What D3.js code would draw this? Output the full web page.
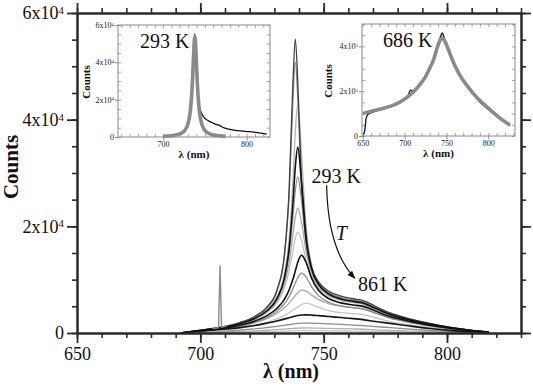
<!DOCTYPE html>
<html>
<head>
<meta charset="utf-8">
<script src="https://cdn.jsdelivr.net/npm/d3@7"></script>
<style>
  body { margin: 0; background: #fff; }
  svg { display: block; }
</style>
</head>
<body>
<svg id="chart" width="533" height="387"></svg>
<script>
// ---- main spectra: wavelength grid (nm) and counts ----
const wavelengths = [692, 700, 708, 716, 722, 727, 731, 734, 736, 737.5, 738.5, 739.5, 741, 743, 745, 748, 752, 757, 762, 766, 771, 777, 785, 793, 801, 809, 817];

const curve01 = [0, 530, 1080, 1960, 3100, 4860, 7980, 14390, 26880, 46420, 55100, 47100, 28450, 16860, 12340, 9520, 7860, 6900, 6420, 6080, 5020, 3760, 2660, 1800, 1110, 570, 190];
const curve02 = [0, 520, 1040, 1900, 3010, 4740, 7790, 14040, 25880, 43400, 50840, 44050, 27390, 16410, 12010, 9230, 7590, 6650, 6180, 5850, 4830, 3610, 2560, 1740, 1070, 550, 180];
const curve03 = [0, 500, 1000, 1810, 2830, 4340, 6760, 10940, 17650, 28070, 37630, 42940, 33630, 19330, 13110, 9490, 7560, 6540, 6050, 5710, 4710, 3520, 2490, 1690, 1040, 540, 180];
const curve04 = [0, 480, 970, 1750, 2730, 4170, 6410, 10160, 15870, 24130, 31130, 34850, 28470, 17530, 12300, 9100, 7340, 6390, 5930, 5610, 4620, 3460, 2450, 1660, 1020, 530, 170];
const curve05 = [0, 470, 960, 1730, 2700, 4110, 6290, 9830, 14910, 21570, 26680, 29260, 25000, 16550, 11940, 8940, 7230, 6300, 5840, 5530, 4560, 3410, 2410, 1640, 1010, 520, 170];
const curve06 = [0, 460, 940, 1690, 2630, 3980, 5990, 9110, 13260, 18220, 21730, 23460, 20850, 14890, 11210, 8640, 7100, 6240, 5800, 5500, 4540, 3400, 2400, 1630, 1000, 515, 165];
const curve07 = [0, 440, 900, 1630, 2530, 3790, 5630, 8330, 11670, 15340, 17780, 18960, 17410, 13280, 10410, 8250, 6880, 6080, 5680, 5390, 4450, 3330, 2360, 1600, 980, 500, 160];
const curve08 = [0, 390, 810, 1460, 2220, 3250, 4600, 6270, 8070, 10020, 11640, 13250, 14610, 13080, 10380, 7950, 6460, 5650, 5260, 4990, 4120, 3080, 2180, 1480, 910, 460, 150];
const curve09 = [0, 350, 720, 1300, 1990, 2900, 4060, 5450, 6850, 8260, 9360, 10370, 11230, 10440, 8730, 6960, 5760, 5070, 4730, 4490, 3710, 2780, 1960, 1330, 820, 420, 130];
const curve10 = [0, 330, 690, 1250, 1900, 2710, 3670, 4700, 5610, 6430, 7020, 7540, 8030, 7870, 7150, 6260, 5520, 5030, 4770, 4560, 3780, 2830, 2000, 1360, 830, 420, 130];
const curve11 = [0, 240, 510, 930, 1400, 1980, 2630, 3270, 3800, 4250, 4590, 4900, 5330, 5600, 5370, 4790, 4200, 3810, 3610, 3450, 2860, 2140, 1520, 1030, 630, 320, 95];
const curve12 = [0, 400, 650, 1000, 1400, 1850, 2250, 2600, 2850, 3050, 3180, 3280, 3370, 3400, 3360, 3250, 3080, 2900, 2700, 2500, 2150, 1800, 1300, 850, 500, 250, 80];
const curve13 = [0, 220, 360, 550, 770, 1020, 1240, 1430, 1570, 1680, 1750, 1800, 1840, 1860, 1850, 1790, 1700, 1600, 1490, 1380, 1190, 990, 720, 470, 280, 140, 45];
const curve14 = [0, 110, 180, 280, 390, 520, 630, 730, 800, 850, 890, 920, 940, 950, 940, 910, 860, 810, 760, 700, 600, 500, 360, 240, 140, 70, 20];
const curve15 = [0, 50, 90, 130, 190, 250, 300, 350, 380, 400, 420, 440, 450, 450, 450, 430, 410, 390, 360, 330, 290, 240, 170, 110, 70, 35, 10];

// narrow line near 708 nm on one of the grey spectra
const spikeWl = [705, 707.4, 708, 708.6, 711];
const spikeCounts = [850, 1000, 12700, 1100, 1360];

// ---- inset 293 K ----
const fitWl293 = [700, 710, 720, 726, 730, 733, 735, 736.5, 737.5, 738, 738.5, 739.5, 741, 743, 746, 750, 756, 765, 775];
const fit293 = [380, 690, 1650, 3560, 7410, 15610, 28580, 44030, 52420, 53700, 52420, 44030, 28580, 15610, 7410, 3560, 1650, 760, 360];
const dataWl293 = [700, 710, 720, 726, 730, 733, 735, 736.5, 737.5, 738, 738.5, 739.5, 741, 743, 745, 749.5, 755, 760, 764, 767, 770, 774, 785, 795, 803, 815, 824];
const data293 = [400, 900, 2000, 3800, 6800, 13000, 24000, 40000, 51000, 55200, 50000, 38000, 25000, 17500, 14000, 10200, 8500, 7400, 6600, 6400, 5500, 4800, 3700, 3200, 2900, 2200, 1600];

// ---- inset 686 K ----
const fitWl686 = [650, 662, 675, 688, 698, 710, 718, 725, 730, 735, 739, 742, 745, 748, 751, 755, 760, 766, 774, 782, 790, 798, 806, 814, 826];
const fit686 = [1010, 1120, 1240, 1400, 1600, 1950, 2280, 2650, 3020, 3450, 3950, 4250, 4370, 4250, 3980, 3600, 3150, 2720, 2280, 1900, 1580, 1310, 1050, 800, 490];
const dataWl686 = [651, 652.5, 654, 656, 660, 666, 675, 688, 698, 704, 707, 710, 714, 720, 728, 735, 740, 743, 745, 747, 750, 755, 760, 766, 774, 782, 790, 798, 806, 814, 826];
const data686 = [60, 300, 800, 960, 1040, 1120, 1220, 1380, 1570, 1800, 2050, 2000, 2100, 2350, 2850, 3450, 4100, 4450, 4600, 4420, 4050, 3600, 3130, 2700, 2250, 1870, 1520, 1250, 1000, 760, 460];

// tick values
const xMajor = [650, 700, 750, 800];
const yMajor = [0, 20000, 40000, 60000];

const spectra = [curve15, curve14, curve13, curve11, curve10, curve09, curve07, curve06, curve05, curve03, curve02, curve01, curve12, curve08, curve04];
const shades = ["#c8c8c8", "#b0b0b0", "#8c8c8c", "#c4c4c4", "#a8a8a8", "#8a8a8a", "#c2c2c2", "#a8a8a8", "#909090", "#b4b4b4", "#8c8c8c", "#404040", "#151515", "#111", "#111"];

const serif = '"Liberation Serif", "DejaVu Serif", "Times New Roman", serif';
const svg = d3.select("#chart");
const ink = "#2a2a2a";

const x = d3.scaleLinear().domain([650, 830]).range([77, 521]);
const y = d3.scaleLinear().domain([0, 60000]).range([333, 13]);

const line = d3.line()
  .x(d => x(d[0]))
  .y(d => y(d[1]))
  .curve(d3.curveMonotoneX);

// spectra
spectra.forEach((c, i) => {
  svg.append("path")
    .datum(wavelengths.map((w, j) => [w, c[j]]))
    .attr("fill", "none")
    .attr("stroke", shades[i])
    .attr("stroke-width", shades[i] === "#111" || shades[i] === "#151515" ? 1.6 : 1.3)
    .attr("d", line);
});

svg.append("path")
  .datum(spikeWl.map((w, j) => [w, spikeCounts[j]]))
  .attr("fill", "none")
  .attr("stroke", "#8c8c8c")
  .attr("stroke-width", 1.4)
  .attr("d", d3.line().x(d => x(d[0])).y(d => y(d[1])));

// superscript labels like 2x10^4
function sciLabels(sel, exp) {
  sel.each(function (d) {
    const t = d3.select(this);
    t.text(null);
    if (d === 0) { t.text("0"); return; }
    t.append("tspan").text(d / Math.pow(10, exp) + "x10");
    t.append("tspan").attr("dy", "-0.5em").attr("font-size", "0.6em").text(exp);
  });
}

function styleAxis(g, w) {
  g.select(".domain").attr("stroke", ink).attr("stroke-width", 2);
  g.selectAll(".tick line").attr("stroke", ink).attr("stroke-width", w);
}

// main axes: minor then major
const minorX = d3.range(650, 831, 10);
const minorY = d3.range(0, 60001, 5000);

const axes = [
  [d3.axisBottom(x), 333, "x"], [d3.axisTop(x), 13, "x"],
  [d3.axisLeft(y), 77, "y"], [d3.axisRight(y), 521, "y"]
];
axes.forEach(([ax, pos, dim]) => {
  const tr = dim === "x" ? `translate(0,${pos})` : `translate(${pos},0)`;
  const gm = svg.append("g").attr("transform", tr)
    .call(ax.tickValues(dim === "x" ? minorX : minorY).tickSize(5).tickSizeOuter(0).tickFormat(""));
  styleAxis(gm, 1.6);
});

const gx = svg.append("g").attr("transform", "translate(0,333)")
  .call(d3.axisBottom(x).tickValues(xMajor).tickSize(10).tickSizeOuter(0).tickPadding(4));
styleAxis(gx, 1.8);
gx.selectAll("text").attr("font-size", 18).attr("fill", "#111");

svg.append("g").attr("transform", "translate(0,13)")
  .call(d3.axisTop(x).tickValues(xMajor).tickSize(10).tickSizeOuter(0).tickFormat(""))
  .call(g => styleAxis(g, 1.8));

const gy = svg.append("g").attr("transform", "translate(77,0)")
  .call(d3.axisLeft(y).tickValues(yMajor).tickSize(10).tickSizeOuter(0).tickPadding(3));
styleAxis(gy, 1.8);
gy.selectAll("text").attr("font-size", 18).attr("fill", "#111")
  .call(sciLabels, 4);

svg.append("g").attr("transform", "translate(521,0)")
  .call(d3.axisRight(y).tickValues(yMajor).tickSize(10).tickSizeOuter(0).tickFormat(""))
  .call(g => styleAxis(g, 1.8));

// axis titles
svg.append("text")
  .attr("x", 291).attr("y", 378)
  .attr("text-anchor", "middle")
  .attr("font-size", 20).attr("font-weight", "bold").attr("fill", "#111")
  .text("λ (nm)");

svg.append("text")
  .attr("transform", "translate(18,167) rotate(-90)")
  .attr("text-anchor", "middle")
  .attr("font-size", 21).attr("font-weight", "bold").attr("fill", "#111")
  .text("Counts");

// temperature annotation
svg.append("defs").append("marker")
  .attr("id", "arrow").attr("viewBox", "0 0 10 10")
  .attr("refX", 9).attr("refY", 5)
  .attr("markerUnits", "userSpaceOnUse")
  .attr("markerWidth", 10).attr("markerHeight", 8)
  .attr("orient", "auto")
  .append("path").attr("d", "M0,1 L10,5 L0,9 z").attr("fill", "#111");

const arrowFrom = [751.2, 27700], arrowCtrl = [751.7, 15600], arrowTo = [762.6, 10300];
svg.append("path")
  .attr("d", `M${x(arrowFrom[0])},${y(arrowFrom[1])} Q${x(arrowCtrl[0])},${y(arrowCtrl[1])} ${x(arrowTo[0])},${y(arrowTo[1])}`)
  .attr("fill", "none").attr("stroke", "#111").attr("stroke-width", 1.2)
  .attr("marker-end", "url(#arrow)");

svg.append("text").attr("x", x(755.1)).attr("y", y(28100))
  .attr("text-anchor", "middle").attr("font-size", 20).attr("fill", "#111").text("293 K");
svg.append("text").attr("x", x(773.9)).attr("y", y(7900))
  .attr("text-anchor", "middle").attr("font-size", 20).attr("fill", "#111").text("861 K");
svg.append("text").attr("x", x(757.2)).attr("y", y(17400))
  .attr("text-anchor", "middle").attr("font-size", 20).attr("font-style", "italic").attr("fill", "#111").text("T");

// ---- insets ----
function drawInset(o) {
  const g = svg.append("g");
  const ix = d3.scaleLinear().domain(o.xDomain).range(o.xRange);
  const iy = d3.scaleLinear().domain(o.yDomain).range(o.yRange);
  const frame = "#8a8a8a";

  g.append("rect")
    .attr("x", o.xRange[0]).attr("y", o.yRange[1])
    .attr("width", o.xRange[1] - o.xRange[0]).attr("height", o.yRange[0] - o.yRange[1])
    .attr("fill", "#fff").attr("stroke", frame).attr("stroke-width", 1);

  const mx = d3.range(650, o.xDomain[1] + 0.1, 10);
  const my = d3.range(0, o.yDomain[1] + 1, o.yMinor);
  const inner = [
    [d3.axisBottom(ix).tickValues(mx), `translate(0,${o.yRange[0]})`],
    [d3.axisTop(ix).tickValues(mx), `translate(0,${o.yRange[1]})`],
    [d3.axisLeft(iy).tickValues(my), `translate(${o.xRange[0]},0)`],
    [d3.axisRight(iy).tickValues(my), `translate(${o.xRange[1]},0)`]
  ];
  inner.forEach(([ax, tr]) => {
    g.append("g").attr("transform", tr)
      .call(ax.tickSize(-3).tickSizeOuter(0).tickFormat(""))
      .call(s => { s.select(".domain").remove(); s.selectAll(".tick line").attr("stroke", frame).attr("stroke-width", 0.8); });
  });

  const bx = g.append("g").attr("transform", `translate(0,${o.yRange[0]})`)
    .call(d3.axisBottom(ix).tickValues(o.xTicks).tickSize(3).tickSizeOuter(0).tickPadding(1));
  bx.select(".domain").remove();
  bx.selectAll(".tick line").attr("stroke", frame);
  bx.selectAll("text").attr("font-size", 8).attr("fill", "#222");

  const ly = g.append("g").attr("transform", `translate(${o.xRange[0]},0)`)
    .call(d3.axisLeft(iy).tickValues(o.yTicks).tickSize(3).tickSizeOuter(0).tickPadding(1));
  ly.select(".domain").remove();
  ly.selectAll(".tick line").attr("stroke", frame);
  ly.selectAll("text").attr("font-size", 8).attr("fill", "#222")
    .call(sciLabels, o.exp);

  const il = d3.line().x(d => ix(d[0])).y(d => iy(d[1])).curve(d3.curveMonotoneX);
  g.append("path")
    .datum(o.dataWl.map((w, j) => [w, o.data[j]]))
    .attr("fill", "none").attr("stroke", "#111").attr("stroke-width", 1.3).attr("d", il);
  g.append("path")
    .datum(o.fitWl.map((w, j) => [w, o.fit[j]]))
    .attr("fill", "none").attr("stroke", "#8a8a8a").attr("stroke-width", 3.6)
    .attr("stroke-linejoin", "round").attr("d", il);

  const cx = (o.xRange[0] + o.xRange[1]) / 2;
  g.append("text").attr("x", cx).attr("y", o.yRange[0] + 21)
    .attr("text-anchor", "middle").attr("font-size", 11).attr("font-weight", "bold").attr("fill", "#111")
    .text("λ (nm)");
  g.append("text")
    .attr("transform", `translate(${o.countsX},${(o.yRange[0] + o.yRange[1]) / 2 + 1}) rotate(-90)`)
    .attr("text-anchor", "middle").attr("font-size", 11).attr("font-weight", "bold").attr("fill", "#111")
    .text("Counts");
  g.append("text").attr("x", o.labelX).attr("y", o.yRange[1] + 23)
    .attr("font-size", 20).attr("fill", "#111").text(o.label);
}

drawInset({
  xDomain: [646, 828], xRange: [118, 270],
  yDomain: [0, 60000], yRange: [137, 25],
  xTicks: [700, 800], yTicks: [0, 20000, 40000, 60000], yMinor: 5000, exp: 4,
  fitWl: fitWl293, fit: fit293, dataWl: dataWl293, data: data293,
  countsX: 90, label: "293 K", labelX: 140
});

drawInset({
  xDomain: [649, 832], xRange: [362, 515],
  yDomain: [0, 5000], yRange: [136, 24],
  xTicks: [650, 700, 750, 800], yTicks: [0, 2000, 4000], yMinor: 500, exp: 3,
  fitWl: fitWl686, fit: fit686, dataWl: dataWl686, data: data686,
  countsX: 332, label: "686 K", labelX: 383
});

// every label in a Times-like serif face
svg.selectAll("text").style("font-family", serif);
</script>
</body>
</html>
